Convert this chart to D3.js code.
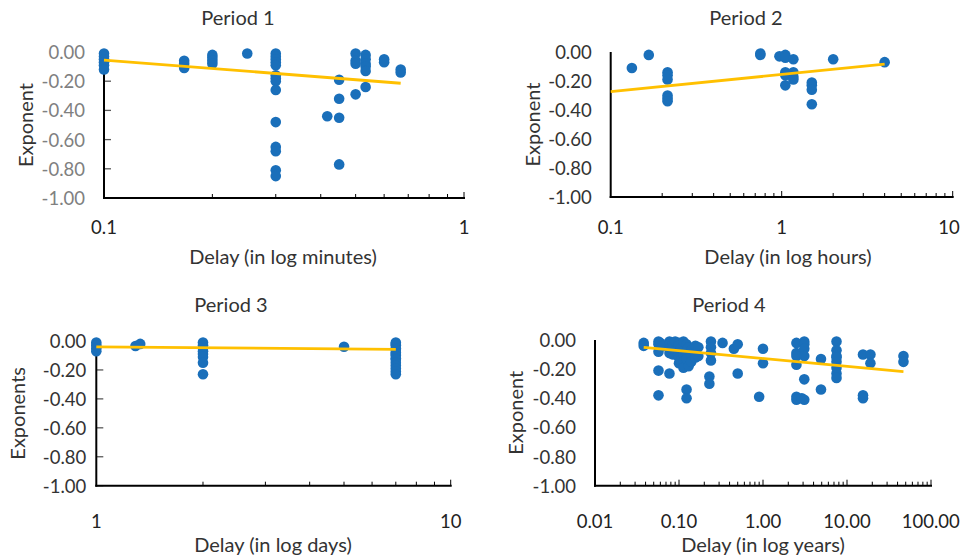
<!DOCTYPE html>
<html>
<head>
<meta charset="utf-8">
<script src="https://cdn.jsdelivr.net/npm/d3@7"></script>
<style>
  html, body { margin: 0; padding: 0; background: #fff; }
  svg { display: block; font-family: Lato, "Open Sans", sans-serif; }
</style>
</head>
<body>
<svg id="chart" width="961" height="557"></svg>
<script>
// Period 1: delay in minutes
const period1Delay = [
  0.1, 0.1, 0.1, 0.1, 0.1, 0.1,
  0.167, 0.167, 0.167,
  0.2, 0.2, 0.2, 0.2,
  0.25,
  0.3, 0.3, 0.3, 0.3, 0.3, 0.3, 0.3, 0.3, 0.3, 0.3, 0.3, 0.3, 0.3, 0.3,
  0.417,
  0.45, 0.45, 0.45, 0.45,
  0.5, 0.5, 0.5, 0.5,
  0.533, 0.533, 0.533, 0.533, 0.533, 0.533,
  0.6, 0.6,
  0.667, 0.667
];
const period1Exponent = [
  -0.01, -0.03, -0.05, -0.07, -0.09, -0.12,
  -0.06, -0.08, -0.11,
  -0.02, -0.04, -0.06, -0.08,
  -0.01,
  -0.01, -0.03, -0.05, -0.07, -0.09, -0.16, -0.18, -0.20, -0.26, -0.48, -0.65, -0.68, -0.81, -0.85,
  -0.44,
  -0.19, -0.32, -0.45, -0.77,
  -0.01, -0.06, -0.08, -0.29,
  -0.02, -0.05, -0.08, -0.10, -0.13, -0.24,
  -0.05, -0.07,
  -0.12, -0.14
];
const period1TrendDelay = [0.1, 0.667];
const period1TrendExponent = [-0.055, -0.214];

// Period 2: delay in hours
const period2Delay = [
  0.133, 0.167,
  0.215, 0.215, 0.215, 0.215, 0.215, 0.215,
  0.75, 0.75,
  0.97, 1.05, 1.05, 1.05, 1.05, 1.05,
  1.17, 1.17, 1.17, 1.17,
  1.5, 1.5, 1.5, 1.5,
  2, 4
];
const period2Exponent = [
  -0.11, -0.02,
  -0.14, -0.16, -0.19, -0.30, -0.32, -0.34,
  -0.01, -0.02,
  -0.03, -0.02, -0.04, -0.14, -0.16, -0.23,
  -0.05, -0.14, -0.17, -0.19,
  -0.21, -0.23, -0.26, -0.36,
  -0.05, -0.07
];
const period2TrendDelay = [0.1, 4];
const period2TrendExponent = [-0.274, -0.083];

// Period 3: delay in days
const period3Delay = [
  1, 1, 1, 1,
  1.29, 1.33,
  2, 2, 2, 2, 2, 2, 2, 2,
  5,
  7, 7, 7, 7, 7, 7, 7, 7, 7, 7, 7, 7, 7, 7, 7
];
const period3Exponent = [
  -0.01, -0.03, -0.05, -0.07,
  -0.035, -0.02,
  -0.01, -0.03, -0.05, -0.07, -0.09, -0.11, -0.15, -0.23,
  -0.04,
  -0.01, -0.02, -0.03, -0.05, -0.06, -0.08, -0.09, -0.10, -0.12, -0.13, -0.15, -0.17, -0.19, -0.21, -0.23
];
const period3TrendDelay = [1, 7];
const period3TrendExponent = [-0.04, -0.058];

// Period 4: delay in years
const period4Delay = [
  0.038, 0.038,
  0.057, 0.057, 0.057, 0.057, 0.057,
  0.06, 0.065,
  0.077, 0.077, 0.077, 0.077, 0.077,
  0.085, 0.085, 0.085,
  0.09, 0.09,
  0.1, 0.1, 0.1, 0.1, 0.1,
  0.105, 0.105,
  0.113, 0.113, 0.113, 0.113,
  0.123, 0.123, 0.123, 0.123, 0.123,
  0.13, 0.13,
  0.14, 0.14, 0.14,
  0.157, 0.157, 0.157,
  0.17, 0.17,
  0.23, 0.23, 0.24, 0.24, 0.24, 0.24,
  0.33,
  0.45, 0.5, 0.5,
  0.9, 1.0, 1.0,
  2.5, 2.5, 2.5, 2.5, 2.5, 2.5,
  2.9,
  3.1, 3.1, 3.1, 3.1, 3.1, 3.1,
  4.9, 4.9,
  7.5, 7.5, 7.5, 7.5, 7.5, 7.5, 7.5, 7.5,
  15.5, 15.5, 15.5,
  19, 19,
  47, 47
];
const period4Exponent = [
  -0.02, -0.04,
  -0.01, -0.03, -0.08, -0.21, -0.38,
  -0.02, -0.04,
  -0.01, -0.03, -0.06, -0.09, -0.23,
  -0.02, -0.05, -0.10,
  -0.01, -0.07,
  -0.02, -0.04, -0.09, -0.12, -0.16,
  -0.06, -0.14,
  -0.01, -0.10, -0.15, -0.19,
  -0.03, -0.08, -0.13, -0.34, -0.40,
  -0.05, -0.18,
  -0.07, -0.11, -0.15,
  -0.04, -0.09, -0.12,
  -0.05, -0.11,
  -0.25, -0.30, -0.01, -0.05, -0.09, -0.14,
  -0.02,
  -0.06, -0.03, -0.23,
  -0.39, -0.06, -0.16,
  -0.02, -0.09, -0.11, -0.17, -0.39, -0.41,
  -0.40,
  -0.01, -0.03, -0.06, -0.11, -0.27, -0.41,
  -0.13, -0.34,
  -0.01, -0.07, -0.11, -0.15, -0.19, -0.23, -0.26, -0.12,
  -0.10, -0.38, -0.40,
  -0.10, -0.16,
  -0.11, -0.15
];
const period4TrendDelay = [0.038, 47];
const period4TrendExponent = [-0.05, -0.217];

// Shared y ticks and per-panel x tick labels
const exponentTicks = [0, -0.2, -0.4, -0.6, -0.8, -1.0];
const period1XTicks = [0.1, 1];
const period2XTicks = [0.1, 1, 10];
const period3XTicks = [1, 10];
const period4XTicks = [0.01, 0.1, 1, 10, 100];

// Number formats with a plain hyphen for negatives
const locale = d3.formatLocale({ decimal: ".", thousands: ",", grouping: [3], currency: ["$", ""], minus: "-" });
const fmt2 = locale.format(".2f");
const fmtG = locale.format("~g");

const panels = [
  { title: "Period 1", xTitle: "Delay (in log minutes)", yTitle: "Exponent",
    delay: period1Delay, exponent: period1Exponent,
    trendDelay: period1TrendDelay, trendExponent: period1TrendExponent,
    xTicks: period1XTicks, xFormat: fmtG,
    domain: [0.1, 1], left: 104, right: 464, top: 52, bottom: 198,
    labelGap: 19, yLabelColor: "#808080", yTickMarks: true,
    titleY: 17, titleX: 238, xLabelY: 227, xTitleY: 256, xTitleX: 283, yTitleX: 25 },
  { title: "Period 2", xTitle: "Delay (in log hours)", yTitle: "Exponent",
    delay: period2Delay, exponent: period2Exponent,
    trendDelay: period2TrendDelay, trendExponent: period2TrendExponent,
    xTicks: period2XTicks, xFormat: fmtG,
    domain: [0.1, 10], left: 610.7, right: 952.7, top: 52, bottom: 197,
    labelGap: 19, yLabelColor: "#333", yTickMarks: false,
    titleY: 17, titleX: 746, xLabelY: 227, xTitleY: 256, xTitleX: 788, yTitleX: 532 },
  { title: "Period 3", xTitle: "Delay (in log days)", yTitle: "Exponents",
    delay: period3Delay, exponent: period3Exponent,
    trendDelay: period3TrendDelay, trendExponent: period3TrendExponent,
    xTicks: period3XTicks, xFormat: fmtG,
    domain: [1, 10], left: 96.3, right: 450.7, top: 341, bottom: 485.7,
    labelGap: 10, yLabelColor: "#333", yTickMarks: true,
    titleY: 304, titleX: 231, xLabelY: 521, xTitleY: 544, xTitleX: 273, yTitleX: 17 },
  { title: "Period 4", xTitle: "Delay (in log years)", yTitle: "Exponent",
    delay: period4Delay, exponent: period4Exponent,
    trendDelay: period4TrendDelay, trendExponent: period4TrendExponent,
    xTicks: period4XTicks, xFormat: fmt2,
    domain: [0.01, 100], left: 595, right: 931, top: 340, bottom: 485.7,
    labelGap: 19, yLabelColor: "#333", yTickMarks: false,
    titleY: 304, titleX: 729, xLabelY: 521, xTitleY: 544, xTitleX: 763, yTitleX: 515 }
];

const svg = d3.select("#chart");
const width = +svg.attr("width");
const dotColor = "#1a6fba";
const trendColor = "#ffc000";
const textColor = "#333";
const tickFont = 18.5;
const titleFont = 20;

panels.forEach(p => {
  const x = d3.scaleLog().domain(p.domain).range([p.left, p.right]);
  const y = d3.scaleLinear().domain([0, -1]).range([p.top, p.bottom]);
  const g = svg.append("g");

  // Minor and major ticks along the log axis, pointing up
  const minor = [];
  const lo = Math.round(Math.log10(p.domain[0]));
  const hi = Math.round(Math.log10(p.domain[1]));
  for (let e = lo; e < hi; e++) {
    for (let k = 2; k <= 9; k++) minor.push(k * Math.pow(10, e));
  }
  g.selectAll(".minor").data(minor).enter().append("line")
    .attr("x1", d => x(d)).attr("x2", d => x(d))
    .attr("y1", p.bottom).attr("y2", p.bottom - 4)
    .attr("stroke", "#000").attr("stroke-width", 1);
  g.selectAll(".major").data(p.xTicks.slice(1)).enter().append("line")
    .attr("x1", d => x(d)).attr("x2", d => x(d))
    .attr("y1", p.bottom).attr("y2", p.bottom - 6)
    .attr("stroke", "#000").attr("stroke-width", 1);

  // y tick marks pointing into the plot
  if (p.yTickMarks) {
    g.selectAll(".ytick").data(exponentTicks.slice(1)).enter().append("line")
      .attr("x1", p.left).attr("x2", p.left + 7)
      .attr("y1", d => y(d)).attr("y2", d => y(d))
      .attr("stroke", "#595959").attr("stroke-width", 1.3);
  }

  // Axis lines
  g.append("line").attr("x1", p.left).attr("x2", p.left)
    .attr("y1", p.top).attr("y2", p.bottom + 1)
    .attr("stroke", "#000").attr("stroke-width", 2);
  g.append("line").attr("x1", p.left - 1).attr("x2", p.right + 1)
    .attr("y1", p.bottom).attr("y2", p.bottom)
    .attr("stroke", "#000").attr("stroke-width", 2);

  // Tick labels
  g.selectAll(".ylab").data(exponentTicks).enter().append("text")
    .attr("x", p.left - p.labelGap).attr("y", d => y(d))
    .attr("text-anchor", "end").attr("dominant-baseline", "central")
    .attr("font-size", tickFont).attr("fill", p.yLabelColor)
    .text(d => fmt2(d));
  g.selectAll(".xlab").data(p.xTicks).enter().append("text")
    .attr("x", d => x(d)).attr("y", p.xLabelY)
    .attr("text-anchor", "middle").attr("dominant-baseline", "central")
    .attr("font-size", tickFont).attr("fill", "#222")
    .text(d => p.xFormat(d))
    .each(function () {
      // keep labels at the far right inside the drawing
      const b = this.getBBox();
      if (b.x + b.width > width - 1) {
        d3.select(this).attr("x", +d3.select(this).attr("x") - (b.x + b.width - (width - 1)));
      }
    });

  // Titles
  g.append("text").attr("x", p.titleX).attr("y", p.titleY)
    .attr("text-anchor", "middle").attr("dominant-baseline", "central")
    .attr("font-size", titleFont).attr("fill", textColor).text(p.title);
  g.append("text").attr("x", p.xTitleX).attr("y", p.xTitleY)
    .attr("text-anchor", "middle").attr("dominant-baseline", "central")
    .attr("font-size", titleFont).attr("fill", textColor).text(p.xTitle);
  g.append("text")
    .attr("transform", `translate(${p.yTitleX},${(p.top + p.bottom) / 2}) rotate(-90)`)
    .attr("text-anchor", "middle").attr("dominant-baseline", "central")
    .attr("font-size", titleFont).attr("fill", textColor).text(p.yTitle);

  // Data points
  g.selectAll(".dot").data(p.delay.map((d, i) => [d, p.exponent[i]])).enter().append("circle")
    .attr("cx", d => x(d[0])).attr("cy", d => y(d[1])).attr("r", 5.3)
    .attr("fill", dotColor);

  // Logarithmic trend line (straight on the log axis)
  const trend = p.trendDelay.map((d, i) => [d, p.trendExponent[i]]);
  g.append("path").datum(trend)
    .attr("d", d3.line().x(d => x(d[0])).y(d => y(d[1])))
    .attr("fill", "none").attr("stroke", trendColor).attr("stroke-width", 2.8);
});
</script>
</body>
</html>
